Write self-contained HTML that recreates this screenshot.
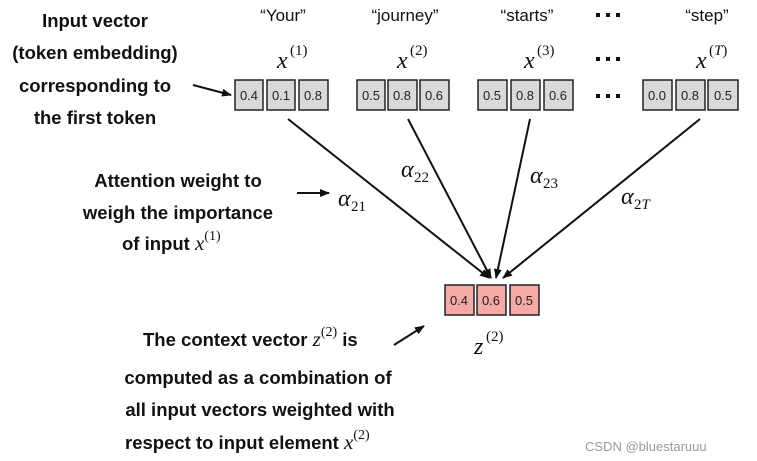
<!DOCTYPE html><html><head><style>
body{margin:0;background:#fff;width:757px;height:461px;overflow:hidden}
svg{display:block}
.b{font-family:"Liberation Sans",sans-serif;font-weight:bold;font-size:18.5px;fill:#111;text-anchor:middle}
.bs{font-family:"Liberation Sans",sans-serif;font-weight:bold;font-size:18.5px;fill:#111}
.q{font-family:"Liberation Sans",sans-serif;font-size:17px;fill:#111;text-anchor:middle}
.m{font-family:"Liberation Serif",serif;font-style:italic;font-size:24px;fill:#111}
.s{font-family:"Liberation Serif",serif;font-size:15px;fill:#111}
.n{font-family:"Liberation Sans",sans-serif;font-size:13px;fill:#222;text-anchor:middle}
.im{font-family:"Liberation Serif",serif;font-style:italic;font-weight:normal;font-size:21px}
.is{font-family:"Liberation Serif",serif;font-style:normal;font-weight:normal;font-size:14px}
</style></head><body>
<svg width="757" height="461" viewBox="0 0 757 461">
<defs><marker id="a" markerWidth="10" markerHeight="8" refX="9" refY="4" orient="auto" markerUnits="userSpaceOnUse"><path d="M0,0 L10,4 L0,8 z" fill="#111"/></marker></defs>
<g class="b">
<text x="95" y="27">Input vector</text><text x="95" y="59">(token embedding)</text><text x="95" y="92">corresponding to</text><text x="95" y="124">the first token</text>
<text x="178" y="187">Attention weight to</text><text x="178" y="219">weigh the importance</text>
<text x="258" y="384">computed as a combination of</text><text x="260" y="416">all input vectors weighted with</text>
</g>
<text class="bs" x="122" y="250">of input <tspan class="im">x</tspan><tspan class="is" dy="-10">(1)</tspan></text>
<text class="bs" x="143" y="346">The context vector <tspan class="im">z</tspan><tspan class="is" dy="-10">(2)</tspan><tspan dy="10"> is</tspan></text>
<text class="bs" x="125" y="449">respect to input element <tspan class="im">x</tspan><tspan class="is" dy="-10">(2)</tspan></text>
<g class="q"><text x="283" y="21">“Your”</text><text x="405" y="21">“journey”</text><text x="527" y="21">“starts”</text><text x="707" y="21">“step”</text></g>
<g><text class="m" x="277" y="68">x</text><text class="s" x="290" y="55">(1)</text>
<text class="m" x="397" y="68">x</text><text class="s" x="410" y="55">(2)</text>
<text class="m" x="524" y="68">x</text><text class="s" x="537" y="55">(3)</text>
<text class="m" x="696" y="68">x</text><text class="s" x="709" y="55">(<tspan font-style="italic">T</tspan>)</text>
<text class="m" x="474" y="354">z</text><text class="s" x="486" y="341">(2)</text></g>
<g fill="#111"><rect x="596" y="13" width="4" height="4"/><rect x="606" y="13" width="4" height="4"/><rect x="616" y="13" width="4" height="4"/>
<rect x="596" y="57" width="4" height="4"/><rect x="606" y="57" width="4" height="4"/><rect x="616" y="57" width="4" height="4"/>
<rect x="596" y="94" width="4" height="4"/><rect x="606" y="94" width="4" height="4"/><rect x="616" y="94" width="4" height="4"/></g>
<g stroke="#222" stroke-width="1.5" fill="#d9d9d9">
<rect x="235" y="80" width="28" height="30"/><rect x="267" y="80" width="28" height="30"/><rect x="299" y="80" width="29" height="30"/>
<rect x="357" y="80" width="28" height="30"/><rect x="388" y="80" width="29" height="30"/><rect x="420" y="80" width="29" height="30"/>
<rect x="478" y="80" width="29" height="30"/><rect x="511" y="80" width="29" height="30"/><rect x="544" y="80" width="29" height="30"/>
<rect x="643" y="80" width="29" height="30"/><rect x="676" y="80" width="29" height="30"/><rect x="708" y="80" width="30" height="30"/>
</g>
<g stroke="#222" stroke-width="1.5" fill="#f4a9a5">
<rect x="445" y="285" width="29" height="30"/><rect x="477" y="285" width="29" height="30"/><rect x="510" y="285" width="29" height="30"/></g>
<g class="n"><text x="249" y="100">0.4</text><text x="281" y="100">0.1</text><text x="313" y="100">0.8</text>
<text x="371" y="100">0.5</text><text x="402" y="100">0.8</text><text x="434" y="100">0.6</text>
<text x="492" y="100">0.5</text><text x="525" y="100">0.8</text><text x="558" y="100">0.6</text>
<text x="657" y="100">0.0</text><text x="690" y="100">0.8</text><text x="723" y="100">0.5</text>
<text x="459" y="305">0.4</text><text x="491" y="305">0.6</text><text x="524" y="305">0.5</text></g>
<g stroke="#111" stroke-width="2" marker-end="url(#a)">
<line x1="288" y1="119" x2="489" y2="278"/><line x1="408" y1="119" x2="491" y2="278"/>
<line x1="530" y1="119" x2="496" y2="278"/><line x1="700" y1="119" x2="503" y2="278"/>
<line x1="193" y1="85" x2="231" y2="95"/><line x1="297" y1="193" x2="329" y2="193"/><line x1="394" y1="345" x2="424" y2="326"/></g>
<g><text class="m" x="338" y="206">α</text><text class="s" x="351" y="211">21</text>
<text class="m" x="401" y="177">α</text><text class="s" x="414" y="182">22</text>
<text class="m" x="530" y="183">α</text><text class="s" x="543" y="188">23</text>
<text class="m" x="621" y="204">α</text><text class="s" x="634" y="209">2<tspan font-style="italic">T</tspan></text></g>
<text x="585" y="451" font-family="Liberation Sans,sans-serif" font-size="13" fill="#999">CSDN @bluestaruuu</text>
</svg></body></html>
